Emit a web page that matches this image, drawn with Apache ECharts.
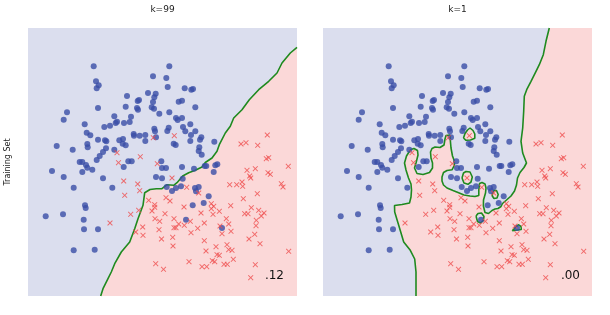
<!DOCTYPE html>
<html><head><meta charset="utf-8">
<script src="https://cdn.jsdelivr.net/npm/echarts@6/dist/echarts.min.js"></script>
<style>html,body{margin:0;padding:0;background:#fff}#c{width:610px;height:315px}</style>
</head><body><div id="c"></div>
<script>
const panelTitles = ['k=99', 'k=1'];
const panelScores = ['.12', '.00'];
const rowLabel = 'Training Set';

// training points (feature units, same in both panels)
const bluePoints = [[93.7,66.3],[153,76.3],[96,81.3],[98.7,85.3],[96.7,88.3],[148,93],[155.7,93.7],[127,96],[139,100],[137.7,101],[154.3,97.3],[153,102],[98,108],[125.7,106.7],[137,108],[138,109.7],[151.7,107.3],[154,108.7],[159.3,113.7],[67,112.3],[63.7,119.7],[114.3,116.3],[131,116.7],[117,121.7],[115.7,123],[110,125.7],[124,123],[129.7,122],[104.3,127],[84.7,124.3],[154.3,128.7],[155,131.3],[86.7,132.7],[90.3,135.3],[98,139.7],[105,140.3],[106.3,141.3],[119.3,140.3],[123,139],[133.7,134],[134,135.7],[139.7,135.7],[145.3,135],[156,137.3],[145.3,141],[122.7,143.7],[125.7,145.3],[87.3,144],[87.7,147.3],[56.7,146],[72.7,149.7],[106,148.3],[114.3,149.7],[103,152],[99.7,156],[96.7,160],[79.7,162],[82.3,162],[128.3,161.3],[131.7,161.3],[161.3,161.3],[86,165],[87.3,167.7],[92.3,169.7],[82.3,172],[52,171],[63.7,177],[103,178.3],[73.7,187.7],[112.3,187.7],[123.7,167],[156,177],[162,178.3],[85,205.3],[85.7,208],[45.7,216.3],[63,214.3],[83.7,219.7],[84,229.3],[98,229.3],[73.7,250.3],[94.7,249.7],
[169.3,66.3],[166.3,78],[167.7,87],[184.7,88.3],[191.3,89.7],[193,89],[178.7,101.7],[182,100.7],[195.3,107.3],[169.3,112.3],[176,118],[177.7,120],[182,118],[190.3,124.3],[168.7,127.7],[167.3,131],[183,127],[185.3,131.3],[195.3,131.3],[191,135],[201.3,137.3],[200,139.7],[190.3,141],[173.7,143.7],[175.7,145],[214.3,141.7],[199.3,147.3],[198.7,151],[201.7,154.7],
[162,168],[166,168],[182,167],[194,168.7],[204.7,166],[206.3,166],[215.3,165.3],[217.3,164.3],[213.7,172],[182.7,178.7],[166.7,187],[172,191],[176,188],[181,186.3],[195,188],[198.7,187],[196,191.3],[208.7,196.3],[192.7,205.3],[203.7,203],[186,219.7],[222,228]];

const redPoints = [[153.3,137.7],[117,152.7],[140.3,156.7],[118.5,162.7],[157.3,163.7],[123.7,181],[137.7,184],[139.7,190.7],[124.7,195.3],[148.7,200.3],[154.7,204.7],[154.7,207.3],[152,211],[138.7,210.3],[130.7,214.3],[155,218.7],[110,223],[159.7,221.3],[142.7,227],[159,229.7],[135.7,232],[143,235.3],[161.5,239],[155.7,263.7],[163.5,269.3],
[174.3,135.7],[241,144],[246,142.7],[257.7,145.3],[267.3,135],[266.3,158.7],[268.7,157.7],
[172,178],[186.7,187.3],[198.7,193],[166,197.7],[170,201],[184,207],[211.3,203.7],[213.7,206.3],[211.3,208.7],[230.7,205.7],[219.3,211.3],[201,213],[213,214.3],[165,213.7],[174,218.7],[190.3,221.3],[204.3,223],[178.7,224],[174,227.7],[176,227.7],[184.3,225.3],[197.7,228.3],[191,232.7],[172.7,237.3],[173,246],[204.3,240.7],[226.3,218.7],[228.7,224],[220,226],[231,231.3],[222,233.7],[227,244.7],[216,246.7],[228.7,249.7],[232,250.3],[206,251],[217,254.7],[219.3,255.3],[233.3,259.3],[212.3,260.7],[214.7,261.7],[189,261.7],[224,264.3],[227.3,264.3],[202,266.7],[206.7,266.7],[255.3,264.7],[250.7,277.7],[288.7,251.3],[260,243.7],[249,239],[254.7,234.3],[256,225.7],[256.3,220.3],[244.7,213.7],[248,213.7],[264,213],[261.3,216],[258.7,210.3],[251.3,207.7],[243.3,198.7],[257.3,193.7],[229.7,184.7],[236.7,184.7],[242,182],[242.7,186.3],[247,170.3],[255.3,168.7],[249.7,176],[250.7,178],[268,172.7],[270.3,174.3],[281.3,183.7],[283,187],[288.3,166.3]];

// decision boundary, k=99 (bottom edge -> right edge)
const boundaryK99 = [[100.7,296],[103,288.7],[108,278.7],[111.3,272],[114.7,263.7],[121.3,252],[129.7,242],[134.7,228.7],[138,218.7],[143,205.3],[144.7,192.7],[150,189.5],[156.3,188.7],[162,188.7],[167,184.7],[173.7,185.3],[177,182.7],[182.7,176],[188.7,172.7],[195.3,170.3],[202,167],[205.3,162.5],[212,158],[217,151.3],[219.3,144.7],[225.3,133],[230.3,126.3],[233.7,118],[242,109.7],[249.3,99.7],[258.7,89.7],[268.7,81.3],[277,73],[282,63],[290.3,53],[297,47.3]];

// decision boundary, k=1 (bottom edge -> top edge)
const boundaryK1 = [[121,296],[121,272],[119.7,259],[115.3,250.3],[108.7,242],[103.7,225.3],[99.7,212],[99.5,205.5],[107,204.5],[114.5,203],[116,197],[116.5,190],[116,184],[113.5,178],[111,170],[109.5,163],[111.5,156],[114,152],[116,149.5],[119,148.5],[122.5,150.5],[123,155],[121,163],[119.5,168],[122,173.5],[128,174.5],[134.5,172.5],[137.5,168],[137.5,163],[136,158],[135.5,152],[137,148.5],[140,147],[145,147.5],[149,145],[150,139],[151,135.5],[153,133.5],[155,135],[155.3,140],[156,148],[157.5,156],[159,160],[159.5,165],[157,169.8],[152,170.5],[148.5,172.5],[147,177],[147,181],[148.5,185],[152,188],[158,190.5],[163,192.5],[169,195],[175,196],[180,196.5],[183.8,195.5],[183.8,190],[184.5,183.5],[187,182.5],[190,184],[191,188],[190.5,193],[188.5,200],[188.4,206],[190,212.5],[193.5,213.5],[197,210.5],[200,209],[203,208.5],[206,206.5],[207.5,203.5],[211.5,200],[216,196],[219.5,191],[221.5,185],[222.5,178],[225,172.5],[229,167.5],[231.5,163],[227.7,153],[226,141.3],[227.7,128],[228.7,111.3],[229.3,96.3],[231.7,89.7],[236,81.3],[241,71.3],[244.3,64.7],[248.3,54.7],[251,41.3],[254.3,28]];

// k=1 enclosed regions
const redIslandsK1 = [
  [[168.5,138],[170,133.5],[172.5,130],[175,128],[178,130.5],[179.8,134],[179.8,138.3],[175.5,140],[171,140.3]],
  [[167,178],[168.5,173],[171,171.5],[175,172],[177.3,177],[176,182],[173,184.3],[169,183]],
  [[197.5,193],[199,190.3],[201.5,190.5],[203.2,194.5],[202,198],[199,198.5],[197.3,196]]
];
const blueIslandsK1 = [
  [[181,216],[183,213.5],[186.5,213],[189,216.5],[188.3,220.5],[185.5,223],[182.5,221.5]],
  [[217.2,230.8],[223.3,224.7],[224.6,223.6],[226,226.5],[226.3,229.5],[225,230.9]]
];

const X_MIN = 28, X_MAX = 297, Y_MIN = 28, Y_MAX = 296;
const BLUE_BG = '#dbdeee', RED_BG = '#fbd8d8', GREEN = '#1f8a1f';
const BLUE = '#3a4da6', RED = '#ef4b4b';
const CROSS = 'path://M0,1.2L1.2,0L5,3.8L8.8,0L10,1.2L6.2,5L10,8.8L8.8,10L5,6.2L1.2,10L0,8.8L3.8,5Z';

function polygonSeries(g, polys, fill, z) {
  return {
    type: 'custom', xAxisIndex: g, yAxisIndex: g, z: z, silent: true,
    data: polys.map(p => p[0]),
    renderItem(params, api) {
      const pts = polys[params.dataIndex].map(p => api.coord(p));
      return { type: 'polygon', shape: { points: pts }, style: { fill: fill } };
    }
  };
}
function lineSeries(g, pts) {
  return { type: 'line', xAxisIndex: g, yAxisIndex: g, data: pts, symbol: 'none', showSymbol: false,
    lineStyle: { color: GREEN, width: 1.6 }, z: 3, silent: true };
}
function closed(p) { return p.concat([p[0]]); }
function scatterSeries(g) {
  return [
    { type: 'scatter', xAxisIndex: g, yAxisIndex: g, data: bluePoints, symbol: 'circle', symbolSize: 6,
      itemStyle: { color: BLUE }, z: 5, silent: true },
    { type: 'scatter', xAxisIndex: g, yAxisIndex: g, data: redPoints, symbol: CROSS, symbolSize: 5.5,
      itemStyle: { color: RED }, z: 5, silent: true }
  ];
}

const grids = [
  { left: 28, top: 28, width: 269, height: 268, show: true, backgroundColor: BLUE_BG, borderWidth: 0 },
  { left: 323, top: 28, width: 269, height: 268, show: true, backgroundColor: BLUE_BG, borderWidth: 0 }
];
const xAxes = grids.map((_, i) => ({ type: 'value', gridIndex: i, min: X_MIN, max: X_MAX, show: false }));
const yAxes = grids.map((_, i) => ({ type: 'value', gridIndex: i, min: Y_MIN, max: Y_MAX, inverse: true, show: false }));

const series = [
  polygonSeries(0, [boundaryK99.concat([[X_MAX, Y_MAX]])], RED_BG, 1),
  lineSeries(0, boundaryK99),
  ...scatterSeries(0),
  polygonSeries(1, [boundaryK1.concat([[X_MAX, Y_MIN], [X_MAX, Y_MAX]])], RED_BG, 1),
  polygonSeries(1, redIslandsK1, RED_BG, 1),
  polygonSeries(1, blueIslandsK1, BLUE_BG, 2),
  lineSeries(1, boundaryK1),
  ...redIslandsK1.map(p => lineSeries(1, closed(p))),
  ...blueIslandsK1.map(p => lineSeries(1, closed(p))),
  ...scatterSeries(1)
];

const FONT = 'DejaVu Sans';
const graphic = [
  { type: 'text', x: 162.5, y: 10, style: { text: panelTitles[0], fontSize: 9, fontFamily: FONT, fill: '#222', align: 'center', verticalAlign: 'middle' } },
  { type: 'text', x: 457.5, y: 10, style: { text: panelTitles[1], fontSize: 9, fontFamily: FONT, fill: '#222', align: 'center', verticalAlign: 'middle' } },
  { type: 'text', x: 284, y: 276, z: 10, style: { text: panelScores[0], fontSize: 12, fontFamily: FONT, fill: '#111', align: 'right', verticalAlign: 'middle' } },
  { type: 'text', x: 580, y: 276, z: 10, style: { text: panelScores[1], fontSize: 12, fontFamily: FONT, fill: '#111', align: 'right', verticalAlign: 'middle' } },
  { type: 'text', x: 8, y: 162, rotation: Math.PI / 2, style: { text: rowLabel, fontSize: 8, fontFamily: FONT, fill: '#222', align: 'center', verticalAlign: 'middle' } }
];

const chart = echarts.init(document.getElementById('c'), null, { renderer: 'canvas' });
chart.setOption({ animation: false, backgroundColor: '#fff', grid: grids, xAxis: xAxes, yAxis: yAxes, series: series, graphic: graphic });
</script></body></html>
